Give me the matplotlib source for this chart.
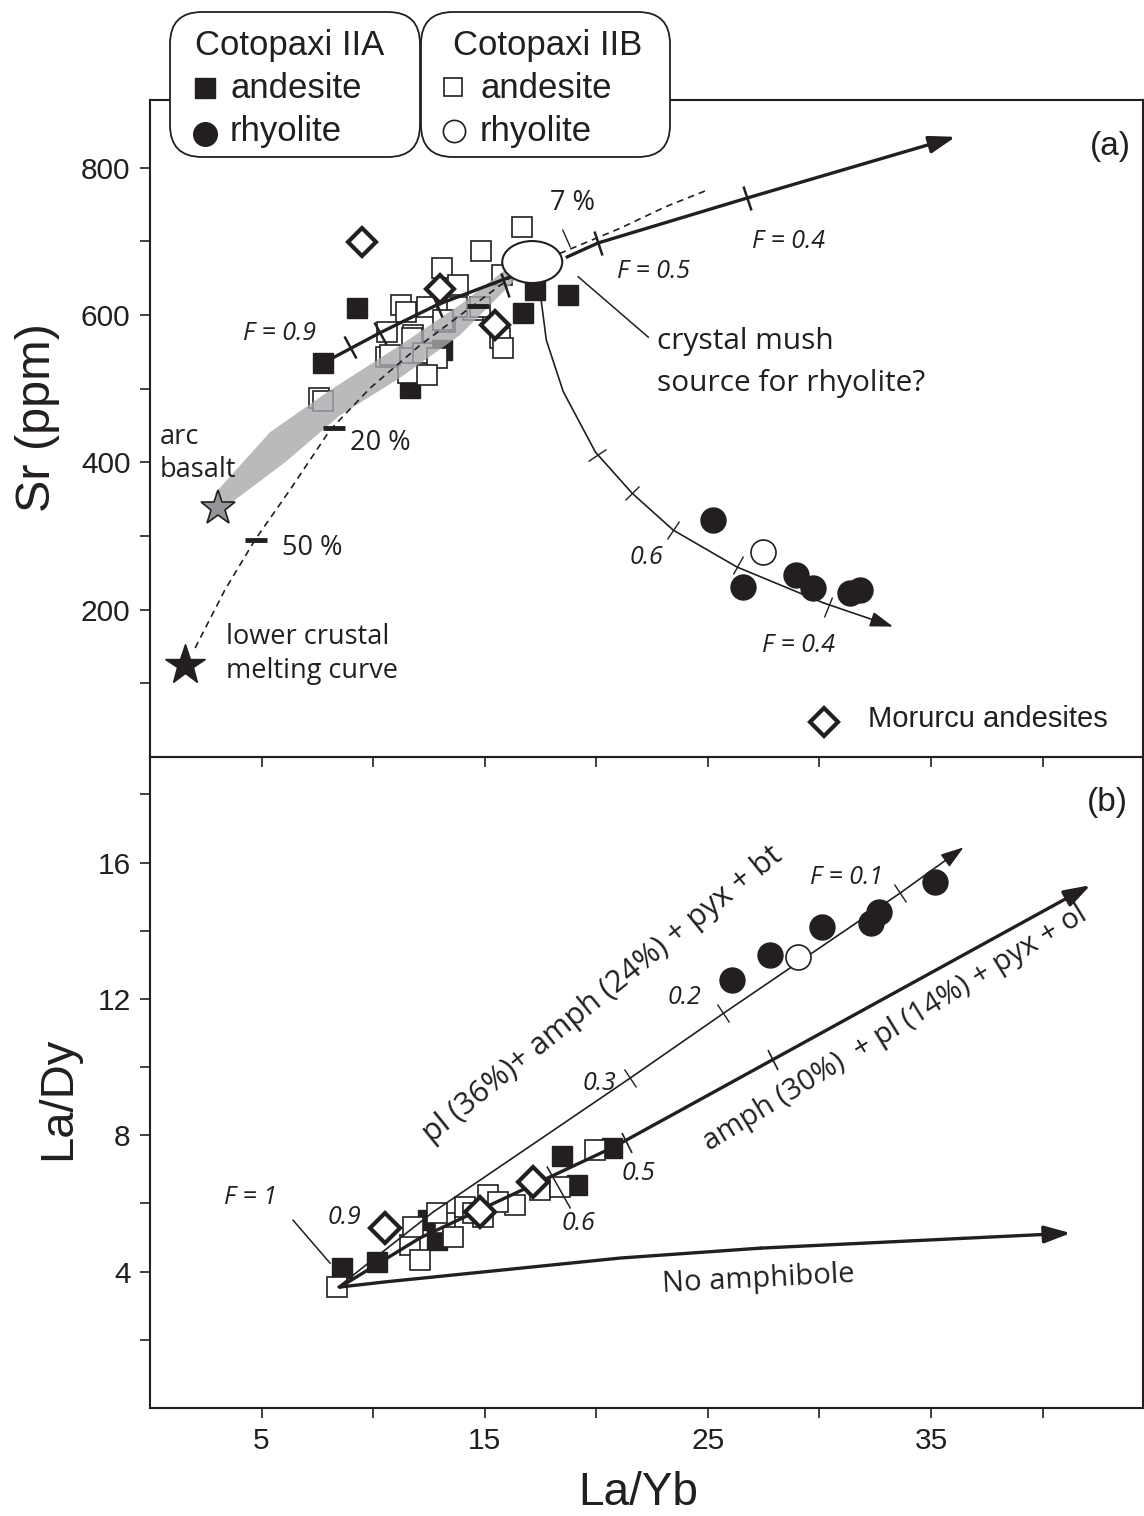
import numpy as np
import matplotlib
matplotlib.use('Agg')
import matplotlib.pyplot as plt
from matplotlib.patches import Polygon, Ellipse, FancyBboxPatch
from matplotlib.markers import MarkerStyle
from matplotlib.transforms import Affine2D

K = '#231f20'
HELV = 'Liberation Sans'
MYR = 'Open Sans'

# ---------------- Panel (a): La/Yb vs Sr (ppm) ----------------
a_iia_and_x = [7.76, 9.28, 13.09, 11.66, 17.26, 16.73, 18.74]
a_iia_and_y = [535, 610, 553, 501, 634, 603, 627]
a_iib_and_x = [16.68, 14.84, 13.09, 13.81, 15.78, 11.26, 11.48, 12.42, 10.63, 11.79,
               13.23, 14.48, 14.80, 10.58, 11.75, 12.24, 12.87, 11.57, 12.42, 15.70,
               15.83, 7.58, 7.76, 10.76, 13.77, 13.14]
a_iib_and_y = [720, 687, 664, 641, 654, 614, 604, 611, 577, 573,
               591, 607, 611, 543, 569, 549, 542, 521, 519, 569,
               555, 487, 483, 546, 611, 593]
a_iia_rhy_x = [25.25, 26.59, 28.97, 29.73, 31.39, 31.84]
a_iia_rhy_y = [322, 231, 247, 230, 223, 227]
a_iib_rhy_x = [27.49]
a_iib_rhy_y = [278]
a_mor_x = [9.51, 13.00, 15.47]
a_mor_y = [699, 635, 587]
arc_basalt = (3.05, 338)
lower_crust = (1.57, 125)
mush_center = (17.13, 672)

band_x = [2.91, 5.38, 8.07, 11.21, 13.90, 16.37, 16.37, 13.90, 11.21, 8.52, 6.05, 3.50]
band_y = [358, 441, 498, 559, 614, 672, 648, 573, 515, 464, 400, 342]

melt_x = [2.02, 3.36, 4.71, 6.28, 8.07, 9.87, 12.10, 14.35, 16.60, 18.70, 21.08, 23.10, 25.00]
melt_y = [148, 227, 295, 363, 444, 501, 559, 610, 661, 688, 718, 747, 770]
melt_mark_x = [4.75, 8.25, 14.71]
melt_mark_y = [295, 447, 612]

frac_in_x = [8.20, 10.31, 12.87, 16.60]
frac_in_y = [542, 576, 614, 657]
frac_out_x = [18.70, 20.09, 26.77, 36.10]
frac_out_y = [679, 698, 759, 842]
frac_tick_x = [8.97, 10.31, 12.87, 15.92, 20.09, 26.77]
frac_tick_y = [557, 576, 614, 641, 698, 759]

rhy_x = [17.53, 17.76, 18.52, 19.96, 21.61, 23.45, 26.30, 30.20, 33.30]
rhy_y = [620, 566, 496, 414, 358, 308, 258, 209, 177]
rhy_tick_x = [20.04, 21.61, 23.45, 26.37, 30.40]
rhy_tick_y = [410, 358, 308, 261, 204]

# ---------------- Panel (b): La/Yb vs La/Dy ----------------
b_iia_and_x = [8.61, 10.18, 18.48, 20.72, 19.15, 12.47, 12.87]
b_iia_and_y = [4.11, 4.28, 7.39, 7.62, 6.54, 5.51, 4.93]
b_iib_and_x = [8.39, 11.66, 13.23, 14.13, 15.16, 14.48, 16.37, 13.59, 17.49, 18.39,
               19.96, 11.79, 12.87, 14.93, 12.11, 15.60]
b_iib_and_y = [3.55, 4.78, 5.43, 5.89, 6.25, 5.72, 5.95, 5.01, 6.39, 6.48,
               7.57, 5.31, 5.72, 5.60, 4.34, 6.05]
b_iia_rhy_x = [26.10, 27.80, 30.13, 32.29, 32.65, 35.20]
b_iia_rhy_y = [12.55, 13.28, 14.11, 14.22, 14.55, 15.43]
b_iib_rhy_x = [29.06]
b_iib_rhy_y = [13.23]
b_mor_x = [10.54, 14.80, 17.17]
b_mor_y = [5.28, 5.75, 6.63]

plag_x = [8.43, 12.69, 21.52, 25.70, 33.60, 36.46]
plag_y = [3.55, 5.75, 9.68, 11.58, 15.10, 16.45]
plag_tick_x = [21.52, 25.70, 33.60]
plag_tick_y = [9.68, 11.58, 15.10]

amph_x = [8.52, 12.10, 20.76, 42.15]
amph_y = [3.55, 4.99, 7.65, 15.34]
amph_tick_x = [21.39, 27.94]
amph_tick_y = [7.77, 10.21]

noamph_x = [8.52, 10.54, 21.08, 27.35, 41.26]
noamph_y = [3.55, 3.70, 4.40, 4.69, 5.13]

xticks = [5, 10, 15, 20, 25, 30, 35, 40]
xticklabels = ['5', '', '15', '', '25', '', '35', '']
a_yticks = [100, 200, 300, 400, 500, 600, 700, 800]
a_yticklabels = ['', '200', '', '400', '', '600', '', '800']
b_yticks = [2, 4, 6, 8, 10, 12, 14, 16, 18]
b_yticklabels = ['', '4', '', '8', '', '12', '', '16', '']

# ---------------- figure ----------------
W, H = 1144, 1516
fig = plt.figure(figsize=(W / 100, H / 100), dpi=100)


def frac(l, t, r, b):
    return [l / W, 1 - b / H, (r - l) / W, (b - t) / H]


axa = fig.add_axes(frac(150, 100, 1143, 757))
axb = fig.add_axes(frac(150, 757, 1143, 1408))
axa.set_xlim(0, 44.5)
axb.set_xlim(0, 44.5)
axa.set_ylim(0, 892)
axb.set_ylim(0, 19.1)

for ax in (axa, axb):
    ax.patch.set_alpha(0)
    for s in ax.spines.values():
        s.set_linewidth(1.5)
        s.set_color(K)
    ax.tick_params(direction='out', length=7, width=1.2, color=K,
                   labelsize=21.5, labelcolor=K, pad=7)
    ax.set_xticks(xticks)

axa.set_xticklabels([])
axa.set_yticks(a_yticks)
axa.set_yticklabels(a_yticklabels, family=HELV)
axb.set_xticklabels(xticklabels, family=HELV)
axb.set_yticks(b_yticks)
axb.set_yticklabels(b_yticklabels, family=HELV)

axa.set_ylabel('Sr (ppm)', family=HELV, fontsize=35, color=K)
axa.yaxis.set_label_coords(-0.0906, 0.517)
axb.set_ylabel('La/Dy', family=HELV, fontsize=34, color=K)
axb.yaxis.set_label_coords(-0.0705, 0.476)
axb.set_xlabel('La/Yb', family=HELV, fontsize=33, color=K)
axb.xaxis.set_label_coords(0.492, -0.097)


def perp_ticks(ax, cx, cy, tx, ty, size, lw, z=6):
    disp = ax.transData.transform(np.column_stack([cx, cy]))
    for x, y in zip(tx, ty):
        p = ax.transData.transform((x, y))
        d = np.hypot(disp[:, 0] - p[0], disp[:, 1] - p[1])
        i = int(np.argmin(d))
        j0, j1 = max(i - 1, 0), min(i + 1, len(disp) - 1)
        v = disp[j1] - disp[j0]
        ang = np.degrees(np.arctan2(v[1], v[0]))
        m = MarkerStyle('|', transform=Affine2D().rotate_deg(ang))
        ax.plot([x], [y], marker=m, ms=size, mew=lw, color=K, ls='none', zorder=z)


def arrow_end(ax, xs, ys, lw, ms=15, hl=1.0, hw=0.33, z=6):
    ax.annotate('', xy=(xs[-1], ys[-1]), xytext=(xs[-2], ys[-2]),
                arrowprops=dict(arrowstyle='-|>,head_length=%g,head_width=%g' % (hl, hw),
                                lw=lw, color=K, shrinkA=0, shrinkB=0, mutation_scale=ms),
                zorder=z)


# ----- panel (a) drawing -----
axa.plot(a_iia_and_x, a_iia_and_y, 's', ms=15, color=K, zorder=2)
axa.plot(a_iib_and_x, a_iib_and_y, 's', ms=14, mfc='white', mec=K, mew=1.2, zorder=3)
axa.add_patch(Polygon(np.column_stack([band_x, band_y]), closed=True,
                      fc='#a7a9ac', ec='none', alpha=0.8, zorder=4))
axa.plot(melt_x, melt_y, ls=(0, (4, 3)), lw=1.2, color=K, zorder=5)
axa.plot(melt_mark_x, melt_mark_y, marker='_', ms=16, mew=3.5, color=K, ls='none', zorder=6)
perp_ticks(axa, melt_x, melt_y, [18.65], [705], 14, 1.0)
axa.plot(frac_in_x, frac_in_y, lw=2.4, color=K, zorder=5)
axa.plot(frac_out_x[:-1], frac_out_y[:-1], lw=2.4, color=K, zorder=5)
arrow_end(axa, frac_out_x, frac_out_y, 2.4, ms=16)
perp_ticks(axa, frac_in_x + frac_out_x, frac_in_y + frac_out_y, frac_tick_x, frac_tick_y, 18, 1.8)
axa.plot(rhy_x[:-1], rhy_y[:-1], lw=1.2, color=K, zorder=5)
arrow_end(axa, rhy_x, rhy_y, 1.2, ms=14)
perp_ticks(axa, rhy_x, rhy_y, rhy_tick_x, rhy_tick_y, 15, 1.0)
axa.plot([19.19, 22.33], [652, 570], lw=1.1, color=K, zorder=5)
axa.plot(a_mor_x, a_mor_y, 'D', ms=14, mfc='white', mec=K, mew=3, zorder=7)
axa.plot(a_iia_rhy_x, a_iia_rhy_y, 'o', ms=18, color=K, zorder=6)
axa.plot(a_iib_rhy_x, a_iib_rhy_y, 'o', ms=18, mfc='white', mec=K, mew=1.2, zorder=6)
axa.add_patch(Ellipse(mush_center, 2.69, 57, fc='white', ec=K, lw=1.5, zorder=8))
axa.plot(*arc_basalt, marker='*', ms=26, mfc='#939598', mec=K, mew=1.2, zorder=8)
axa.plot(*lower_crust, marker='*', ms=30, color=K, zorder=8)
axa.plot([30.2], [48], 'D', ms=14, mfc='white', mec=K, mew=3, zorder=8)

# ----- panel (b) drawing -----
axb.plot(b_iia_and_x, b_iia_and_y, 's', ms=15, color=K, zorder=2)
axb.plot(b_iib_and_x, b_iib_and_y, 's', ms=15, mfc='white', mec=K, mew=1.2, zorder=3)
axb.plot(plag_x[:-1], plag_y[:-1], lw=1.2, color=K, zorder=4)
arrow_end(axb, plag_x, plag_y, 1.2, ms=14)
perp_ticks(axb, plag_x, plag_y, plag_tick_x, plag_tick_y, 15, 1.0)
axb.plot(amph_x[:-1], amph_y[:-1], lw=2.4, color=K, zorder=4)
arrow_end(axb, amph_x, amph_y, 2.4, ms=16)
perp_ticks(axb, amph_x, amph_y, amph_tick_x, amph_tick_y, 17, 1.2)
axb.plot(noamph_x[:-1], noamph_y[:-1], lw=2.4, color=K, zorder=4)
arrow_end(axb, noamph_x, noamph_y, 2.4, ms=16)
axb.plot([6.41, 8.07], [5.51, 4.25], lw=1.1, color=K, zorder=4)
axb.plot([17.80, 18.83], [7.07, 5.87], lw=1.1, color=K, zorder=4)
axb.plot(b_mor_x, b_mor_y, 'D', ms=15, mfc='white', mec=K, mew=3, zorder=7)
axb.plot(b_iia_rhy_x, b_iia_rhy_y, 'o', ms=18, color=K, zorder=6)
axb.plot(b_iib_rhy_x, b_iib_rhy_y, 'o', ms=18, mfc='white', mec=K, mew=1.2, zorder=6)

# ----- overlay: legend boxes and annotations (pixel coords) -----
ov = fig.add_axes([0, 0, 1, 1], zorder=10)
ov.set_xlim(0, W)
ov.set_ylim(H, 0)
ov.axis('off')
ov.patch.set_alpha(0)

for (x0, w) in [(170, 250), (421, 249)]:
    ov.add_patch(FancyBboxPatch((x0, 12), w, 145, boxstyle='round,pad=0,rounding_size=32',
                                fc='white', ec=K, lw=1.3))
lk = dict(family=HELV, fontsize=25, color=K, va='center', ha='left')
ov.text(195, 46, 'Cotopaxi IIA', **lk)
ov.text(230, 89, 'andesite', **lk)
ov.text(230, 132, 'rhyolite', **lk)
ov.text(453, 45, 'Cotopaxi IIB', **lk)
ov.text(480, 88, 'andesite', **lk)
ov.text(480, 131, 'rhyolite', **lk)
ov.plot([205], [88], 's', ms=14, color=K)
ov.plot([205], [134], 'o', ms=17, color=K)
ov.plot([453], [87], 's', ms=13, mfc='white', mec=K, mew=1.2)
ov.plot([454], [131], 'o', ms=16, mfc='white', mec=K, mew=1.2)

ov.text(868, 719, 'Morurcu andesites', family=HELV, fontsize=21, color=K, va='center')
ov.text(1110, 146, '(a)', family=HELV, fontsize=24, color=K, va='center', ha='center')
ov.text(1107, 802, '(b)', family=HELV, fontsize=24, color=K, va='center', ha='center')

mk = dict(family=MYR, fontsize=19.5, color=K, va='center', ha='left')
mi = dict(family=MYR, fontsize=18, color=K, va='center', ha='left', style='italic')
ov.text(550, 203, '7 %', **mk)
ov.text(617, 272, 'F = 0.5', **mi)
ov.text(752, 241, 'F = 0.4', **mi)
ov.text(243, 333, 'F = 0.9', **mi)
ov.text(657, 341, 'crystal mush', **dict(mk, fontsize=21.5))
ov.text(657, 383, 'source for rhyolite?', **dict(mk, fontsize=21.5))
ov.text(160, 437, 'arc', **mk)
ov.text(160, 470, 'basalt', **mk)
ov.text(350, 443, '20 %', **mk)
ov.text(282, 548, '50 %', **mk)
ov.text(226, 637, 'lower crustal', **mk)
ov.text(226, 671, 'melting curve', **mk)
ov.text(630, 558, '0.6', **mi)
ov.text(762, 646, 'F = 0.4', **mi)

ov.text(224, 1198, 'F = 1', **mi)
ov.text(328, 1217, '0.9', **mi)
ov.text(583, 1084, '0.3', **mi)
ov.text(668, 998, '0.2', **mi)
ov.text(810, 877, 'F = 0.1', **mi)
ov.text(622, 1173, '0.5', **mi)
ov.text(562, 1223, '0.6', **mi)

rk = dict(family=MYR, fontsize=21, color=K, va='center', ha='center', rotation_mode='anchor')
ov.text(603, 995, 'pl (36%)+ amph (24%) + pyx + bt', rotation=39, **dict(rk, fontsize=22))
ov.text(895, 1028, 'amph (30%)  + pl (14%) + pyx + ol', rotation=31.5, **rk)
ov.text(758, 1279, 'No amphibole', rotation=3, **rk)

fig.savefig('out.png', dpi=100)
